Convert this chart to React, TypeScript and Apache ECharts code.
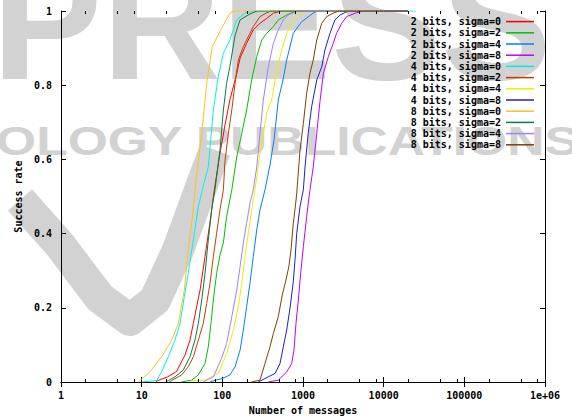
import React, { useEffect, useRef } from "react";
import * as echarts from "echarts";

const SERIES_NAMES = [
  "2 bits, sigma=0", "2 bits, sigma=2", "2 bits, sigma=4", "2 bits, sigma=8",
  "4 bits, sigma=0", "4 bits, sigma=2", "4 bits, sigma=4", "4 bits, sigma=8",
  "8 bits, sigma=0", "8 bits, sigma=2", "8 bits, sigma=4", "8 bits, sigma=8",
];
const SERIES_COLORS = [
  "#ff0000", "#00c000", "#0080ff", "#c000ff",
  "#00eeee", "#c04000", "#eeee00", "#2020c0",
  "#ffc020", "#008040", "#a080ff", "#804000",
];

const X_LABELS = ["1", "10", "100", "1000", "10000", "100000", "1e+06"];
const Y_LABELS = ["0", "0.2", "0.4", "0.6", "0.8", "1"];
const MINOR_TICKS = [2, 5, 8, 20, 50, 80, 200, 500, 800, 2000, 5000, 8000, 20000, 50000, 80000, 200000, 500000, 800000];

const b2s0 = [[15,0],[16,0.004],[21,0.014],[27,0.028],[34.5,0.073],[39.7,0.113],[43.7,0.158],[48,0.203],[53,0.248],[61,0.338],[70,0.428],[79.5,0.518],[93.5,0.616],[108,0.693],[124,0.76],[151,0.832],[166,0.873],[200,0.913],[242,0.949],[293,0.967],[355,0.98],[429,0.994],[519,0.999],[600,1],[20000,1]];
const b2s2 = [[31,0],[41.7,0.005],[50.4,0.019],[61,0.05],[67,0.095],[72.3,0.158],[77.3,0.221],[85,0.293],[93.5,0.342],[103,0.375],[113,0.446],[131,0.518],[151,0.607],[174,0.67],[200,0.733],[231,0.814],[267,0.877],[308,0.922],[355,0.94],[429,0.958],[494,0.976],[628,0.989],[724,0.995],[800,1],[20000,1]];
const b2s4 = [[70,0],[76.6,0.003],[102,0.01],[124,0.019],[144,0.041],[166,0.086],[182,0.14],[200,0.203],[220,0.266],[242,0.338],[267,0.41],[293,0.464],[338,0.518],[390,0.585],[437,0.652],[494,0.76],[565,0.814],[628,0.868],[758,0.94],[963,0.971],[1330,0.994],[1500,1],[20000,1]];
const b2s8 = [[372,0],[494,0.005],[628,0.027],[724,0.05],[773,0.086],[819,0.158],[875,0.221],[936,0.293],[1010,0.365],[1110,0.446],[1220,0.518],[1340,0.58],[1480,0.67],[1630,0.76],[1790,0.832],[2060,0.877],[2370,0.913],[2610,0.94],[3020,0.967],[3480,0.985],[4410,0.994],[5380,0.999],[6000,1],[20000,1]];
const b4s0 = [[10,0],[15.4,0.004],[17.7,0.028],[21.4,0.068],[25.9,0.113],[29.9,0.158],[33.8,0.23],[37.8,0.293],[43.7,0.383],[50.4,0.472],[56.5,0.518],[67,0.58],[77.3,0.733],[89,0.823],[103,0.886],[124,0.922],[151,0.976],[191,0.995],[260,1],[25000,1]];
const b4s2 = [[22,0],[23.6,0.004],[31.3,0.019],[37.8,0.041],[43.7,0.068],[50.4,0.113],[58.1,0.158],[64,0.212],[70.3,0.266],[77.3,0.338],[85,0.401],[93.5,0.464],[103,0.518],[108,0.598],[119,0.671],[131,0.733],[144,0.806],[158,0.868],[182,0.904],[220,0.94],[242,0.958],[293,0.985],[355,0.995],[400,1],[20000,1]];
const b4s4 = [[40,0],[41.7,0.004],[61,0.005],[89,0.023],[113,0.077],[137,0.14],[158,0.203],[174,0.266],[191,0.338],[210,0.401],[231,0.464],[254,0.518],[285,0.598],[319,0.666],[358,0.728],[409,0.76],[463,0.827],[534,0.889],[634,0.941],[751,0.976],[918,0.992],[1050,1],[20000,1]];
const b4s8 = [[279,0],[372,0.014],[450,0.023],[519,0.05],[570,0.095],[628,0.14],[690,0.199],[758,0.27],[796,0.329],[836,0.401],[918,0.473],[1010,0.518],[1060,0.58],[1160,0.67],[1280,0.742],[1480,0.814],[1710,0.85],[1870,0.895],[2160,0.94],[2490,0.976],[2870,0.989],[3480,0.998],[4000,1],[20000,1]];
const b8s0 = [[9.1,0],[12.7,0.028],[17.7,0.068],[23.6,0.113],[28.5,0.158],[33.8,0.248],[37.8,0.356],[43.7,0.464],[45.8,0.518],[55.5,0.67],[64,0.805],[75,0.904],[98,0.953],[124,0.994],[140,1],[10000,1]];
const b8s2 = [[20,0],[21.4,0.004],[25.9,0.014],[32.8,0.032],[39.7,0.068],[45.8,0.113],[50.4,0.158],[55.5,0.221],[61,0.293],[67,0.383],[73.8,0.464],[81,0.518],[93.5,0.625],[103,0.733],[113,0.805],[124,0.85],[144,0.935],[166,0.976],[220,0.992],[270,1],[20000,1]];
const b8s4 = [[58,0],[77.3,0.014],[98,0.064],[113,0.104],[131,0.176],[151,0.248],[166,0.311],[182,0.374],[200,0.428],[220,0.482],[242,0.518],[267,0.58],[293,0.67],[322,0.76],[372,0.85],[429,0.913],[494,0.949],[570,0.976],[657,0.989],[758,0.995],[850,1],[20000,1]];
const b8s8 = [[231,0],[293,0.005],[338,0.05],[390,0.095],[429,0.131],[494,0.176],[550,0.232],[615,0.275],[670,0.313],[710,0.356],[758,0.428],[808,0.477],[836,0.509],[918,0.625],[1010,0.697],[1110,0.778],[1220,0.832],[1340,0.868],[1480,0.922],[1710,0.967],[1970,0.985],[2370,0.994],[2800,1],[20000,1]];

const SERIES_DATA = [b2s0, b2s2, b2s4, b2s8, b4s0, b4s2, b4s4, b4s8, b8s0, b8s2, b8s4, b8s8];

const FONT = "'DejaVu Sans Mono', 'Liberation Mono', monospace";
const WM = "#d2d2d2";

export default function App() {
  const ref = useRef<HTMLDivElement>(null);
  useEffect(() => {
    if (!ref.current) return;
    const chart = echarts.init(ref.current, null, { renderer: "svg" });
    const axisCommon = {
      type: "log",
      logBase: 10,
      min: 1,
      max: 1e6,
      splitLine: { show: false },
      minorTick: { show: false },
      axisLine: { show: true, lineStyle: { color: "#000", width: 1 } },
      axisTick: { show: true, inside: true, length: 5, lineStyle: { color: "#000" } },
    };
    const yCommon = {
      type: "value",
      min: 0,
      max: 1,
      interval: 0.2,
      splitLine: { show: false },
      axisLine: { show: true, lineStyle: { color: "#000", width: 1 } },
      axisTick: { show: true, inside: true, length: 5, lineStyle: { color: "#000" } },
    };
    const option: any = {
      animation: false,
      backgroundColor: "#fff",
      grid: { left: 61, right: 27, top: 11, bottom: 38, containLabel: false },
      graphic: [
        {
          type: "text", x: -8, y: 22, z: -10, silent: true,
          style: { text: "PRESS", font: "bold 165px 'Liberation Sans'", fill: WM, textVerticalAlign: "middle" },
        },
        {
          type: "text", x: -4, y: 141, z: -10, silent: true, scaleX: 1.29,
          style: { text: "OLOGY PUBLICATIONS", font: "bold 40px 'Liberation Sans'", fill: WM, textVerticalAlign: "middle" },
        },
        {
          type: "polyline", z: -10, silent: true,
          shape: { points: [[20, 200], [60, 245], [100, 298], [130, 320], [155, 300], [178, 250], [200, 190], [215, 150]] },
          style: { stroke: WM, lineWidth: 32, fill: null, lineJoin: "round" },
        },
      ],
      legend: {
        orient: "vertical",
        right: 33,
        top: 11,
        align: "right",
        icon: "rect",
        itemWidth: 28,
        itemHeight: 1.5,
        itemGap: 0,
        data: SERIES_NAMES,
        textStyle: { fontFamily: FONT, fontWeight: "bold", fontSize: 10, color: "#000", lineHeight: 11.2 },
      },
      xAxis: [
        {
          ...axisCommon,
          position: "bottom",
          name: "Number of messages",
          nameLocation: "middle",
          nameGap: 23,
          nameTextStyle: { fontFamily: FONT, fontWeight: "bold", fontSize: 10, color: "#000" },
          axisLabel: {
            margin: 8,
            fontFamily: FONT, fontWeight: "bold", fontSize: 10, color: "#000",
            formatter: (v: number) => X_LABELS[Math.round(Math.log10(v))],
          },
        },
        { ...axisCommon, position: "top", axisLabel: { show: false } },
      ],
      yAxis: [
        {
          ...yCommon,
          position: "left",
          name: "Success rate",
          nameLocation: "middle",
          nameRotate: 90,
          nameGap: 38,
          nameTextStyle: { fontFamily: FONT, fontWeight: "bold", fontSize: 10, color: "#000" },
          axisLabel: {
            margin: 9,
            fontFamily: FONT, fontWeight: "bold", fontSize: 10, color: "#000",
            formatter: (v: number) => Y_LABELS[Math.round(v * 5)],
          },
        },
        { ...yCommon, position: "right", axisLabel: { show: false } },
      ],
      series: [
        ...SERIES_DATA.map((d, i) => ({
          name: SERIES_NAMES[i],
          type: "line",
          data: d,
          xAxisIndex: 0,
          yAxisIndex: 0,
          showSymbol: false,
          symbol: "none",
          color: SERIES_COLORS[i],
          lineStyle: { width: 1, color: SERIES_COLORS[i] },
          z: 3 + i * 0.01,
        })),
        {
          type: "custom",
          name: "minor ticks",
          xAxisIndex: 0,
          yAxisIndex: 0,
          silent: true,
          data: MINOR_TICKS.map((v) => [v, 0]),
          renderItem: (params: any, api: any) => {
            const cs = params.coordSys;
            const x = Math.round(api.coord([api.value(0), 0])[0]) + 0.5;
            const yb = cs.y + cs.height;
            return {
              type: "group",
              children: [
                { type: "line", shape: { x1: x, y1: yb, x2: x, y2: yb - 3 }, style: { stroke: "#000", lineWidth: 1 } },
                { type: "line", shape: { x1: x, y1: cs.y, x2: x, y2: cs.y + 3 }, style: { stroke: "#000", lineWidth: 1 } },
              ],
            };
          },
          z: 5,
        },
      ],
    };
    chart.setOption(option);
    return () => chart.dispose();
  }, []);
  return <div ref={ref} style={{ width: 572, height: 420, position: "absolute", left: 0, top: 0 }} />;
}
